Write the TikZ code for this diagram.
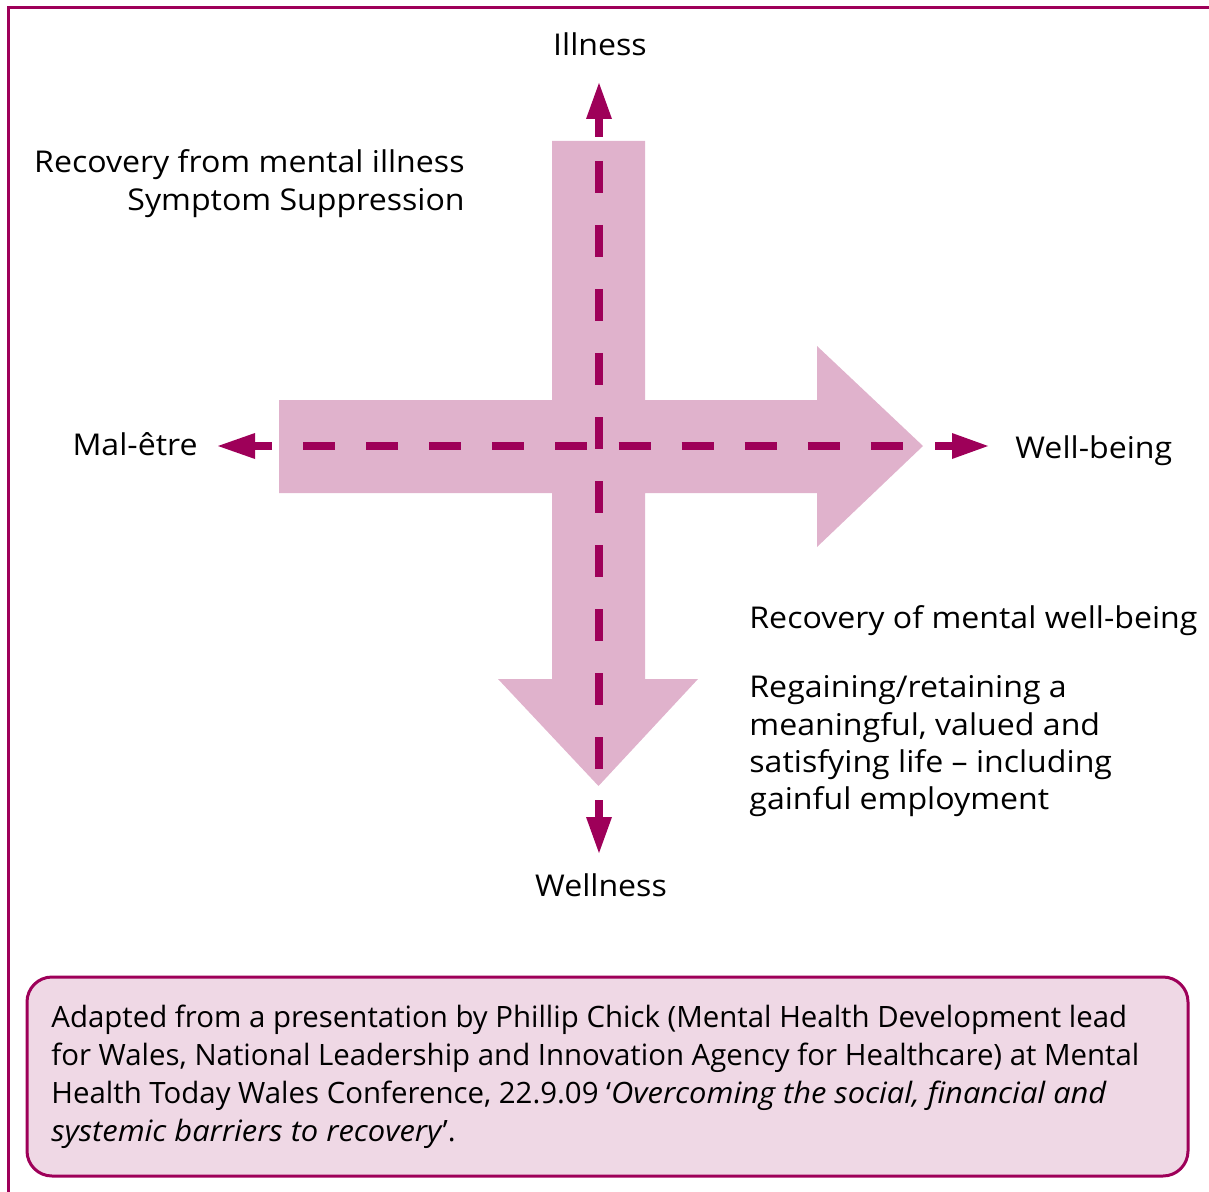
\documentclass[tikz,border=0pt]{standalone}
\usepackage{fontspec}
\setmainfont{Open Sans}[ItalicFeatures={FakeStretch=1.05}]
\newfontfamily\labelfont{Open Sans}[FakeStretch=1.07]
\definecolor{mag}{HTML}{9E0059}
\definecolor{crosspink}{HTML}{E0B2CC}
\definecolor{boxpink}{HTML}{EFD8E5}
\begin{document}
\begin{tikzpicture}[x=0.5pt,y=-0.5pt,
  lbl/.style={inner sep=0pt, font=\labelfont\fontsize{15pt}{19pt}\selectfont, text=black},
  note/.style={inner sep=0pt, font=\fontsize{14.7pt}{19pt}\selectfont, text=black},
  vdash/.style={draw=mag, line width=4pt, dash pattern=on 16pt off 16pt},
  hdash/.style={draw=mag, line width=4pt, dash pattern=on 16pt off 15.55pt},
  shaft/.style={draw=mag, line width=4pt},
  head/.style={fill=mag, draw=none},
  frameline/.style={draw=mag, line width=1.5pt},
  notebox/.style={draw=mag, fill=boxpink, line width=1.5pt, rounded corners=12.5pt},
]
\useasboundingbox (0,0) rectangle (1209,1192);
% frame (top and left edges visible)
\draw[frameline] (1209,8) -- (8,8) -- (8,1192);

% the pink cross with two arrowheads
\fill[crosspink] (552,141) -- (645,141) -- (645,400) -- (817,400) -- (817,346)
  -- (923,446) -- (817,547) -- (817,493) -- (645,493) -- (645,679) -- (698,679)
  -- (598.5,786) -- (498,679) -- (552,679) -- (552,493) -- (279,493) -- (279,400)
  -- (552,400) -- cycle;

% dashed centre lines
\coordinate (vtop) at (599,161);
\coordinate (vbot) at (599,769);
\coordinate (hleft) at (303,446);
\coordinate (hright) at (903.5,446);
\draw[vdash] (vtop) -- (vbot);
\draw[hdash] (hleft) -- (hright);

% small arrows
\coordinate (upS) at (599,137);  \coordinate (upH) at (599,119);  \coordinate (upT) at (599,83);
\coordinate (dnS) at (599,800);  \coordinate (dnH) at (599,817);  \coordinate (dnT) at (599,853);
\coordinate (lfS) at (272,446);  \coordinate (lfH) at (255,446);  \coordinate (lfT) at (218,446);
\coordinate (rtS) at (935,446);  \coordinate (rtH) at (952,446);  \coordinate (rtT) at (988,446);
\draw[shaft] (upS) -- (upH);
\fill[head] ([xshift=-6.5pt]upH) -- ([xshift=6.5pt]upH) -- (upT) -- cycle;
\draw[shaft] (dnS) -- (dnH);
\fill[head] ([xshift=-6.5pt]dnH) -- ([xshift=6.5pt]dnH) -- (dnT) -- cycle;
\draw[shaft] (lfS) -- (lfH);
\fill[head] ([yshift=-6.5pt]lfH) -- ([yshift=6.5pt]lfH) -- (lfT) -- cycle;
\draw[shaft] (rtS) -- (rtH);
\fill[head] ([yshift=-6.5pt]rtH) -- ([yshift=6.5pt]rtH) -- (rtT) -- cycle;

% labels
\node[lbl, anchor=base] (illness) at (600,56) {Illness};
\node[lbl, anchor=base east] (rec1) at (465,173) {Recovery from mental illness};
\node[lbl, anchor=base east] (rec2) at (465,211) {Symptom Suppression};
\node[lbl, anchor=base east] (mal) at (198,455) {Mal-être};
\node[lbl, anchor=base west] (wellbeing) at (1015,458) {Well-being};
\node[lbl, anchor=base west] (recw) at (749,628) {Recovery of mental well-being};
\node[lbl, anchor=base west] (reg1) at (749,697) {Regaining/retaining a};
\node[lbl, anchor=base west] (reg2) at (749,735) {meaningful, valued and};
\node[lbl, anchor=base west] (reg3) at (749,772) {satisfying life – including};
\node[lbl, anchor=base west] (reg4) at (749,809) {gainful employment};
\node[lbl, anchor=base] (wellness) at (601,896) {Wellness};

% source note box
\draw[notebox] (27,977) rectangle (1188,1176);
\node[note, anchor=base west] (n1) at (51,1027) {Adapted from a presentation by Phillip Chick (Mental Health Development lead};
\node[note, anchor=base west] (n2) at (51,1065) {for Wales, National Leadership and Innovation Agency for Healthcare) at Mental};
\node[note, anchor=base west] (n3) at (51,1103) {Health Today Wales Conference, 22.9.09 ‘\textit{Overcoming the social, financial and}};
\node[note, anchor=base west] (n4) at (51,1141) {\textit{systemic barriers to recovery}’.};
\end{tikzpicture}
\end{document}
